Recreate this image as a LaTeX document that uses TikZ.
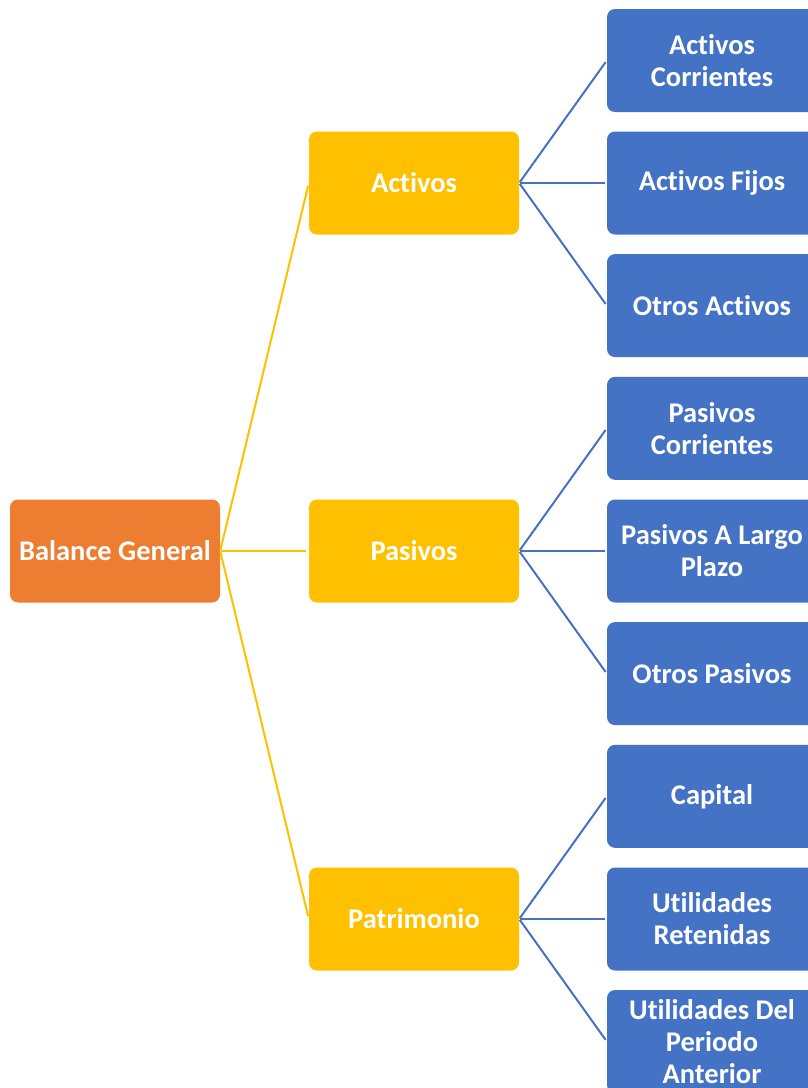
\documentclass[tikz,border=0pt]{standalone}
\usepackage{fontspec}
\setmainfont[Ligatures=NoCommon]{Carlito}
\definecolor{rootc}{HTML}{ED7D31}
\definecolor{midc}{HTML}{FFC000}
\definecolor{leafc}{HTML}{4472C4}
\begin{document}
\begin{tikzpicture}[x=1pt,y=-1pt,
  box/.style={rounded corners=8pt, minimum width=210pt, minimum height=103pt, inner sep=1pt, text=white, font=\fontsize{28.5}{32}\selectfont\bfseries, align=center},
  rootbox/.style={box, fill=rootc},
  midbox/.style={box, fill=midc},
  leafbox/.style={box, fill=leafc},
  yline/.style={draw=midc, line width=2pt},
  bline/.style={draw=leafc, line width=2pt}]
\useasboundingbox (0,0) rectangle (808,1088);
\clip (0,0) rectangle (808,1088);
\node[rootbox] (root) at (115,551) {Balance General};
\node[midbox] (m1) at (414,183) {Activos};
\node[midbox] (m2) at (414,551) {Pasivos};
\node[midbox] (m3) at (414,919) {Patrimonio};
\node[leafbox] (l1) at (712,60.5) {Activos\\Corrientes};
\node[leafbox] (l2) at (712,183) {Activos Fijos};
\node[leafbox] (l3) at (712,305.6) {Otros Activos};
\node[leafbox] (l4) at (712,428.3) {Pasivos\\Corrientes};
\node[leafbox] (l5) at (712,551) {Pasivos A Largo\\Plazo};
\node[leafbox] (l6) at (712,673.6) {Otros Pasivos};
\node[leafbox] (l7) at (712,796.3) {Capital};
\node[leafbox] (l8) at (712,919) {Utilidades\\Retenidas};
\node[leafbox] (l9) at (712,1041.5) {Utilidades Del\\Periodo\\Anterior};
\foreach \m in {m1,m2,m3}
  \draw[yline, shorten <=1pt, shorten >=3pt] (root.east) -- (\m.west);
\foreach \m/\a/\b/\c in {m1/l1/l2/l3, m2/l4/l5/l6, m3/l7/l8/l9}
  \foreach \l in {\a,\b,\c}
    \draw[bline, shorten <=1pt, shorten >=2pt] (\m.east) -- (\l.west);
\end{tikzpicture}
\end{document}
